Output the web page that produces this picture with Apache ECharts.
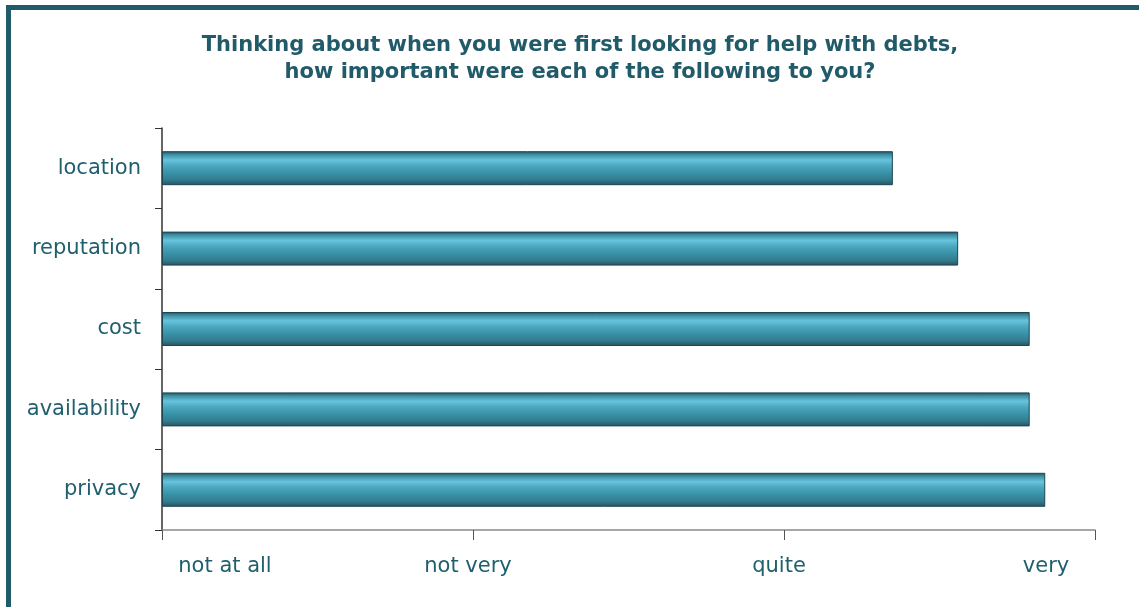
<!DOCTYPE html>
<html>
<head>
<meta charset="utf-8">
<script src="https://cdn.jsdelivr.net/npm/echarts@6/dist/echarts.min.js"></script>
<style>
  html, body { margin: 0; padding: 0; background: #fff; }
  #chart { width: 1139px; height: 607px; }
</style>
</head>
<body>
<div id="chart"></div>
<script>
// survey answers, scale 0 = not at all ... 3 = very
const categories = ['location', 'reputation', 'cost', 'availability', 'privacy'];
const importance = [2.35, 2.56, 2.79, 2.79, 2.84];
const scaleLabels = ['not at all', 'not very', 'quite', 'very'];

const teal = '#215a68';

const chart = echarts.init(document.getElementById('chart'));

// shift the x labels the way the original sits them next to the ticks
const labelRich = {
  l0: { padding: [0, 0, 0, 126] },
  l1: { padding: [0, 10, 0, 0] },
  l2: { padding: [0, 10, 0, 0] },
  l3: { padding: [0, 98, 0, 0] }
};

const option = {
  backgroundColor: '#fff',
  animation: false,
  title: {
    text: 'Thinking about when you were first looking for help with debts,\nhow important were each of the following to you?',
    left: 575,
    top: 27,
    textAlign: 'center',
    textStyle: {
      fontFamily: 'DejaVu Sans',
      fontWeight: 'bold',
      fontSize: 21,
      lineHeight: 27,
      color: teal
    }
  },
  graphic: [{
    type: 'rect',
    shape: { x: 8.5, y: 7.5, width: 1300, height: 800 },
    style: { fill: null, stroke: teal, lineWidth: 5 },
    silent: true
  }],
  grid: { left: 162, right: 44, top: 128, bottom: 77 },
  xAxis: {
    type: 'value',
    min: 0,
    max: 3,
    interval: 1,
    splitLine: { show: false },
    axisLine: { show: true, lineStyle: { color: '#8a8a8a', width: 1.5 } },
    axisTick: { show: true, length: 10, lineStyle: { color: '#555', width: 1 } },
    axisLabel: {
      margin: 26,
      fontFamily: 'DejaVu Sans',
      fontSize: 21,
      color: '#1f5f6e',
      formatter: function (v) {
        const i = Math.round(v);
        return '{l' + i + '|' + scaleLabels[i] + '}';
      },
      rich: labelRich
    }
  },
  yAxis: {
    type: 'category',
    data: categories,
    inverse: true,
    axisLine: { show: true, lineStyle: { color: '#333', width: 1.5 } },
    axisTick: { show: true, length: 7, alignWithLabel: false, lineStyle: { color: '#333' } },
    axisLabel: {
      margin: 21,
      fontFamily: 'DejaVu Sans',
      fontSize: 21,
      color: '#1f5f6e'
    }
  },
  series: [{
    type: 'bar',
    data: importance,
    barWidth: 34,
    itemStyle: {
      borderColor: '#1d4652',
      borderWidth: 1,
      color: new echarts.graphic.LinearGradient(0, 0, 0, 1, [
        { offset: 0, color: '#254f5c' },
        { offset: 0.1, color: '#3d8ea2' },
        { offset: 0.26, color: '#67c4dc' },
        { offset: 0.42, color: '#4ca9c1' },
        { offset: 0.62, color: '#3a93a9' },
        { offset: 0.84, color: '#337c8f' },
        { offset: 1, color: '#27525f' }
      ])
    }
  }]
};

chart.setOption(option);
</script>
</body>
</html>
